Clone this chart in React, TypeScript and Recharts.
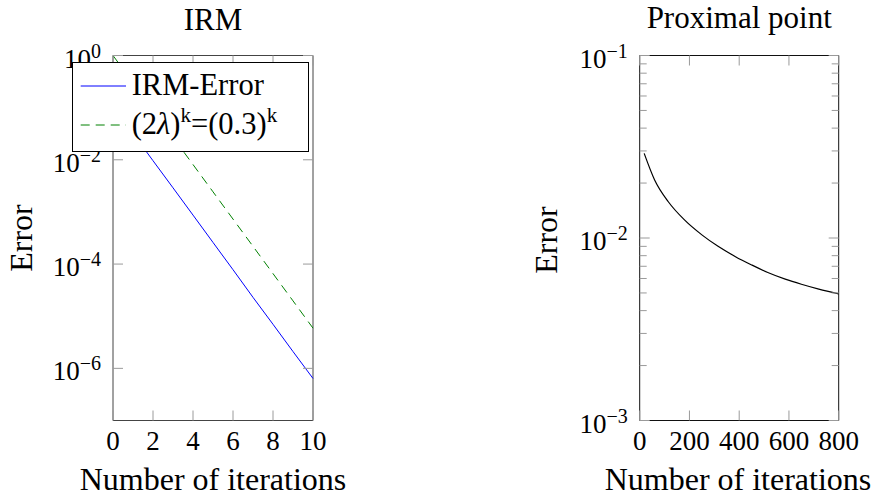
import React from "react";
import { LineChart, Line, XAxis, YAxis, ReferenceArea, Legend } from "recharts";

const FONT = '"Liberation Serif", "Times New Roman", serif';
const TICK_COLOR = "#9a9a9a";

// --- IRM panel ---
const irmIterations = [0, 1, 2, 3, 4, 5, 6, 7, 8, 9, 10];
const irmError = [0.107, 0.032, 0.0096, 0.0029, 8.7e-4, 2.6e-4, 7.8e-5, 2.3e-5, 7.0e-6, 2.1e-6, 6.4e-7];
const rateBound = [1, 0.3, 0.09, 0.027, 0.0081, 0.00243, 7.29e-4, 2.19e-4, 6.56e-5, 1.97e-5, 5.9e-6];
const irmXTicks = [0, 2, 4, 6, 8, 10];
const irmYTicks = [1, 1e-2, 1e-4, 1e-6];

// --- Proximal point panel ---
const proxIterations = [18, 60, 115, 180, 250, 315, 385, 450, 515, 585, 650, 720, 800];
const proxError = [0.0291, 0.0208, 0.0158, 0.01256, 0.0104, 0.009, 0.0079, 0.00712, 0.00647, 0.00595, 0.00558, 0.00525, 0.00494];
const proxXTicks = [0, 200, 400, 600, 800];
const proxYTicks = [
  1e-3, 2e-3, 3e-3, 4e-3, 5e-3, 6e-3, 7e-3, 8e-3, 9e-3,
  1e-2, 2e-2, 3e-2, 4e-2, 5e-2, 6e-2, 7e-2, 8e-2, 9e-2, 1e-1,
];

const irmData = irmIterations.map((k, i) => ({ k, irm: irmError[i], bound: rateBound[i] }));
const proxData = proxIterations.map((k, i) => ({ k, err: proxError[i] }));

type Box = { left: number; right: number; top: number; bottom: number };

const irmBox: Box = { left: 113, right: 313, top: 55.5, bottom: 420.5 };
const proxBox: Box = { left: 202.7, right: 401.7, top: 55.5, bottom: 420.5 };

const Y_AXIS_W = 100;
const X_AXIS_H = 40;

// font has to go through style, the attribute gets overridden
const serif = (size: number) => ({ fontFamily: FONT, fontSize: size });

function makeYTick(box: Box) {
  return (props: any) => {
    const { y, payload } = props;
    const v = payload.value as number;
    const e = Math.log10(v);
    const exp = Math.round(e);
    const major = Math.abs(e - exp) < 1e-6;
    const len = major ? 10 : 7;
    return (
      <g>
        <line x1={box.left} x2={box.left + len} y1={y} y2={y} stroke={TICK_COLOR} />
        <line x1={box.right - len} x2={box.right} y1={y} y2={y} stroke={TICK_COLOR} />
        {major && (
          <text x={box.left - 12} y={y + 12} textAnchor="end" style={serif(27)} fill="#000">
            <tspan>10</tspan>
            <tspan dy={-10} style={{ fontSize: 20 }}>{exp < 0 ? `\u2212${-exp}` : `${exp}`}</tspan>
          </text>
        )}
      </g>
    );
  };
}

function makeXTick(box: Box) {
  return (props: any) => {
    const { x, payload } = props;
    return (
      <g>
        <line x1={x} x2={x} y1={box.bottom - 10} y2={box.bottom} stroke={TICK_COLOR} />
        <line x1={x} x2={x} y1={box.top} y2={box.top + 10} stroke={TICK_COLOR} />
        <text x={x} y={449.5} textAnchor="middle" style={serif(27)} fill="#000">
          {payload.value}
        </text>
      </g>
    );
  };
}

function xLabel(cx: number) {
  return () => (
    <text x={cx} y={490} textAnchor="middle" style={serif(32)} fill="#000">
      Number of iterations
    </text>
  );
}

function yLabel(bx: number, cy: number) {
  return () => (
    <text x={bx} y={cy} transform={`rotate(-90, ${bx}, ${cy})`} textAnchor="middle" style={serif(32)} fill="#000">
      Error
    </text>
  );
}

const legendOrder = ["irm", "bound"];

function legendText(key: string) {
  if (key === "bound") {
    return (
      <>
        <tspan>(2</tspan>
        <tspan style={{ fontStyle: "italic" }}>λ</tspan>
        <tspan>)</tspan>
        <tspan dy={-12} style={{ fontSize: 21 }}>k</tspan>
        <tspan dy={12}>=(0.3)</tspan>
        <tspan dy={-12} style={{ fontSize: 21 }}>k</tspan>
      </>
    );
  }
  return <tspan>IRM-Error</tspan>;
}

function IrmLegend(props: any) {
  const payload = [...(props.payload || [])].sort(
    (a: any, b: any) => legendOrder.indexOf(String(a.dataKey)) - legendOrder.indexOf(String(b.dataKey))
  );
  return (
    <svg width={238} height={91} style={{ display: "block" }}>
      <rect x={0.5} y={0.5} width={236} height={89} fill="#fff" stroke="#000" strokeWidth={1} />
      {payload.map((entry: any, i: number) => {
        const cy = 24 + i * 39;
        return (
          <g key={String(entry.dataKey)}>
            <line
              x1={8.7}
              x2={54}
              y1={cy}
              y2={cy}
              stroke={entry.color}
              strokeWidth={1}
              strokeDasharray={entry.payload?.strokeDasharray}
            />
            <text x={59.7} y={cy + 8.5} style={serif(30.5)} fill="#000">
              {legendText(String(entry.dataKey))}
            </text>
          </g>
        );
      })}
    </svg>
  );
}

export default function App() {
  return (
    <div style={{ position: "absolute", left: 0, top: 0, width: 874, height: 497, background: "#fff" }}>
      {/* IRM */}
      <div style={{ position: "absolute", left: 0, top: 0 }}>
        <LineChart
          width={437}
          height={497}
          data={irmData}
          margin={{
            top: irmBox.top,
            right: 437 - irmBox.right,
            bottom: 497 - irmBox.bottom - X_AXIS_H,
            left: irmBox.left - Y_AXIS_W,
          }}
        >
          <XAxis
            dataKey="k"
            type="number"
            domain={[0, 10]}
            ticks={irmXTicks}
            interval={0}
            height={X_AXIS_H}
            axisLine={false}
            tickLine={false}
            tick={makeXTick(irmBox)}
            label={xLabel(213)}
          />
          <YAxis
            type="number"
            scale="log"
            domain={[1e-7, 1]}
            allowDataOverflow
            ticks={irmYTicks}
            interval={0}
            width={Y_AXIS_W}
            axisLine={false}
            tickLine={false}
            tick={makeYTick(irmBox)}
            label={yLabel(31.5, 238)}
          />
          <ReferenceArea
            x1={0}
            x2={10}
            y1={1e-7}
            y2={1}
            fill="none"
            fillOpacity={0}
            stroke="#444"
            strokeWidth={1}
            label={{ value: "IRM", position: "top", offset: 26, style: serif(31), fill: "#000" }}
          />
          <Line dataKey="irm" name="IRM-Error" type="linear" stroke="#0000ff" strokeWidth={1} dot={false} isAnimationActive={false} />
          <Line dataKey="bound" name="(2λ)^k=(0.3)^k" type="linear" stroke="#008000" strokeWidth={1} strokeDasharray="9 6" dot={false} isAnimationActive={false} />
          <Legend
            layout="vertical"
            align="center"
            verticalAlign="middle"
            content={IrmLegend}
            wrapperStyle={{ left: 72, top: 62, width: 238, height: 91 }}
          />
        </LineChart>
      </div>

      {/* Proximal point */}
      <div style={{ position: "absolute", left: 437, top: 0 }}>
        <LineChart
          width={437}
          height={497}
          data={proxData}
          margin={{
            top: proxBox.top,
            right: 437 - proxBox.right,
            bottom: 497 - proxBox.bottom - X_AXIS_H,
            left: proxBox.left - Y_AXIS_W,
          }}
        >
          <XAxis
            dataKey="k"
            type="number"
            domain={[0, 800]}
            ticks={proxXTicks}
            interval={0}
            height={X_AXIS_H}
            axisLine={false}
            tickLine={false}
            tick={makeXTick(proxBox)}
            label={xLabel(301)}
          />
          <YAxis
            type="number"
            scale="log"
            domain={[1e-3, 1e-1]}
            allowDataOverflow
            ticks={proxYTicks}
            interval={0}
            width={Y_AXIS_W}
            axisLine={false}
            tickLine={false}
            tick={makeYTick(proxBox)}
            label={yLabel(120, 240)}
          />
          <ReferenceArea
            x1={0}
            x2={800}
            y1={1e-3}
            y2={1e-1}
            fill="none"
            fillOpacity={0}
            stroke="#111"
            strokeWidth={1}
            label={{ value: "Proximal point", position: "top", offset: 28, style: serif(31), fill: "#000" }}
          />
          <Line dataKey="err" type="monotone" stroke="#000" strokeWidth={1.2} dot={false} isAnimationActive={false} />
        </LineChart>
      </div>
    </div>
  );
}
